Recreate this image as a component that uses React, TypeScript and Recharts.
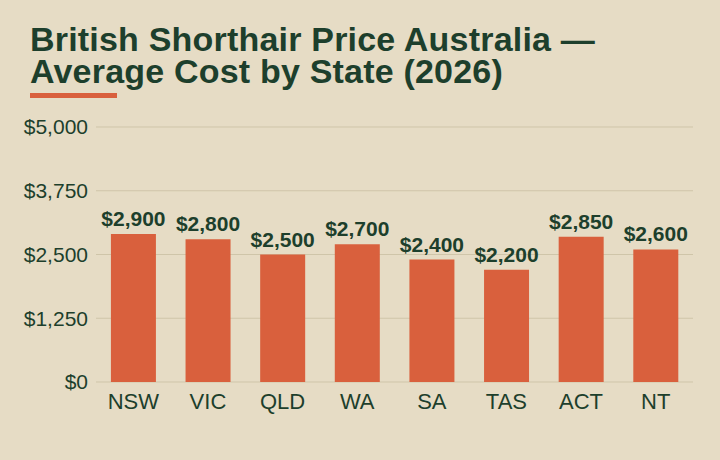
import { BarChart, Bar, XAxis, YAxis, CartesianGrid, LabelList } from 'recharts';

const states = ['NSW', 'VIC', 'QLD', 'WA', 'SA', 'TAS', 'ACT', 'NT'];
const avgPrice = [2900, 2800, 2500, 2700, 2400, 2200, 2850, 2600];
const yTicks = [0, 1250, 2500, 3750, 5000];

const BG = '#e6dcc5';
const INK = '#1d3f2c';
const ACCENT = '#d9603d';
const GRID = '#cfc5a9';

const data = states.map((s, i) => ({ state: s, price: avgPrice[i] }));

const money = (v: number) => '$' + v.toLocaleString('en-US');

export default function App() {
  return (
    <div
      style={{
        position: 'fixed',
        top: 0,
        left: 0,
        width: 720,
        height: 460,
        background: BG,
        fontFamily: '"Liberation Sans", Arial, sans-serif',
        overflow: 'hidden',
      }}
    >
      <div
        style={{
          position: 'absolute',
          left: 30,
          top: 23,
          fontWeight: 700,
          fontSize: 34,
          letterSpacing: 0.2,
          lineHeight: '32px',
          color: INK,
          whiteSpace: 'nowrap',
        }}
      >
        British Shorthair Price Australia —<br />
        Average Cost by State (2026)
      </div>
      <div style={{ position: 'absolute', left: 30, top: 93, width: 87, height: 5, background: ACCENT }} />
      <div style={{ position: 'absolute', left: 0, top: 100 }}>
        <BarChart
          width={720}
          height={330}
          data={data}
          barCategoryGap="20%"
          margin={{ top: 27, right: 27, left: 0, bottom: 18 }}
        >
          <CartesianGrid vertical={false} stroke={GRID} />
          <XAxis
            dataKey="state"
            axisLine={false}
            tickLine={false}
            height={30}
            tick={{ fill: INK, fontSize: 22 }}
            tickMargin={5}
          />
          <YAxis
            width={96}
            domain={[0, 5000]}
            ticks={yTicks}
            axisLine={false}
            tickLine={false}
            tickFormatter={money}
            tick={{ fill: INK, fontSize: 21 }}
          />
          <Bar dataKey="price" fill={ACCENT} isAnimationActive={false}>
            <LabelList
              dataKey="price"
              position="top"
              offset={8}
              formatter={(v: unknown) => money(Number(v))}
              style={{ fill: INK, fontSize: 21, fontWeight: 700 }}
            />
          </Bar>
        </BarChart>
      </div>
    </div>
  );
}
